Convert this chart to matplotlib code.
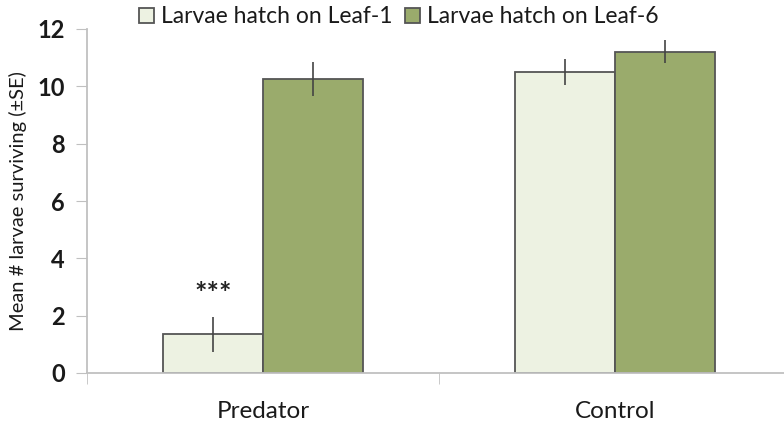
import matplotlib
matplotlib.use('Agg')
import matplotlib.pyplot as plt
import numpy as np

# data
groups = ['Predator', 'Control']
series = ['Larvae hatch on Leaf-1', 'Larvae hatch on Leaf-6']
leaf1_mean = [1.35, 10.5]
leaf1_se = [0.62, 0.44]
leaf6_mean = [10.25, 11.2]
leaf6_se = [0.6, 0.4]
colors = ['#edf2e2', '#9aab6c']

plt.rcParams['font.family'] = ['Lato', 'DejaVu Sans']

fig = plt.figure(figsize=(7.84, 4.24), dpi=100)
ax = fig.add_axes([87 / 784, 1 - 373 / 424, 704 / 784, 344 / 424])

x = np.arange(len(groups))
w = 0.285
for off, means, ses, col, lab in [(-w / 2, leaf1_mean, leaf1_se, colors[0], series[0]),
                                  (w / 2, leaf6_mean, leaf6_se, colors[1], series[1])]:
    ax.bar(x + off, means, w, color=col, edgecolor='#555555', linewidth=1.3, label=lab, zorder=2)
    ax.errorbar(x + off, means, yerr=ses, fmt='none', ecolor='#444444', elinewidth=1.2, capsize=0, zorder=3)

# significance marker
ax.text(x[0] - w / 2, 2.75, '***', ha='center', va='center',
        fontsize=21, fontweight='bold', color='#222222')

ax.set_xlim(-0.5, 1.5)
ax.set_ylim(0, 12)
ax.set_yticks(range(0, 13, 2))
ax.set_xticks(x)
ax.set_xticklabels(groups)
ax.set_xticks([-0.5, 0.5, 1.5], minor=True)
ax.tick_params(axis='x', which='major', length=0, pad=20, labelsize=17.5, labelcolor='#1a1a1a')
ax.tick_params(axis='x', which='minor', length=8, color='#c0c0c0', direction='out')
ax.tick_params(axis='y', length=8, color='#c0c0c0', direction='out', labelsize=17, pad=8,
               labelcolor='#1a1a1a')
for t in ax.get_yticklabels():
    t.set_fontweight('bold')
ax.set_ylabel('Mean # larvae surviving (\u00b1SE)', fontsize=14.5, color='#1a1a1a')
ax.yaxis.set_label_coords((27 - 87) / 704, 0.5)

for s in ['top', 'right']:
    ax.spines[s].set_visible(False)
ax.spines['left'].set_color('#c0c0c0')
ax.spines['bottom'].set_color('#c0c0c0')
ax.spines['left'].set_linewidth(1.3)
ax.spines['bottom'].set_linewidth(1.3)

leg = ax.legend(loc='center left', bbox_to_anchor=(0.074, 1.035), ncol=2, frameon=False,
                fontsize=16.5, handlelength=0.65, handleheight=0.65, handletextpad=0.3,
                columnspacing=0.55, borderaxespad=0, borderpad=0)
for t in leg.get_texts():
    t.set_color('#1a1a1a')

fig.savefig('out.png', dpi=100)
